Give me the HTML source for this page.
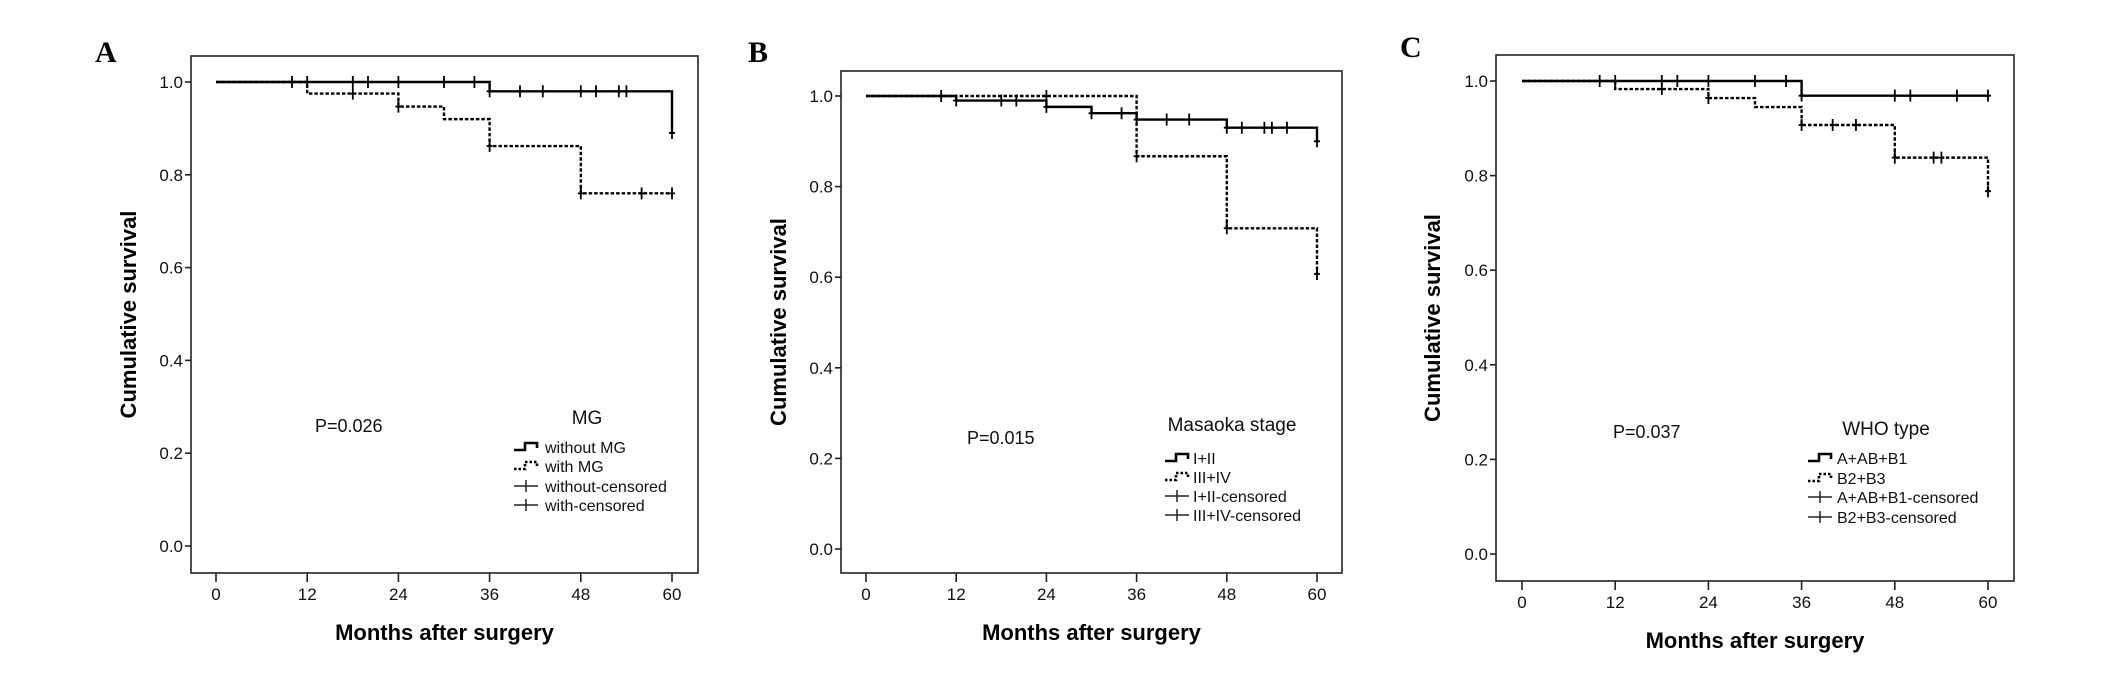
<!DOCTYPE html>
<html><head><meta charset="utf-8"><style>
html,body{margin:0;padding:0;background:#fff;}
svg{display:block;font-family:"Liberation Sans",sans-serif;}
</style></head><body>
<svg id="fig" width="2126" height="673" viewBox="0 0 2126 673"></svg>
<script>
// ---- Panel A: MG ----
const aSolidTimes=[0,36,60];
const aSolidVals=[1.0,0.98,0.89];
const aSolidCens=[10,12,18,20,24,30,34,36,40,43,48,50,53,54,60];
const aDotTimes=[0,12,24,30,36,48];
const aDotVals=[1.0,0.975,0.947,0.92,0.862,0.76];
const aDotCens=[18,24,36,48,56,60];
// ---- Panel B: Masaoka ----
const bSolidTimes=[0,12,24,30,36,48,60];
const bSolidVals=[1.0,0.99,0.976,0.962,0.948,0.93,0.90];
const bSolidCens=[10,12,18,20,24,30,34,36,40,43,48,50,53,54,56,60];
const bDotTimes=[0,36,48,60];
const bDotVals=[1.0,0.867,0.708,0.607];
const bDotCens=[24,36,48,60];
// ---- Panel C: WHO ----
const cSolidTimes=[0,36];
const cSolidVals=[1.0,0.969];
const cSolidCens=[10,12,18,20,24,30,34,36,48,50,56,60];
const cDotTimes=[0,12,24,30,36,48,60];
const cDotVals=[1.0,0.983,0.964,0.945,0.907,0.838,0.767];
const cDotCens=[18,24,36,40,43,48,53,54,60];
// ---- axis tick labels ----
const xTicks=[0,12,24,36,48,60];
const yTicks=[0,0.2,0.4,0.6,0.8,1.0];
const yTickLabels=["0.0","0.2","0.4","0.6","0.8","1.0"];

const NS="http://www.w3.org/2000/svg";
const svg=document.getElementById('fig');
function mk(tag,attrs,parent){const e=document.createElementNS(NS,tag);for(const k in attrs)e.setAttribute(k,attrs[k]);(parent||svg).appendChild(e);return e;}

function panel(cfg){
  const g=mk('g',{});
  
  
  const X=t=>cfg.x0+(cfg.x60-cfg.x0)*t/60;
  const Y=v=>cfg.y0+(cfg.y1-cfg.y0)*v;
  const lbl=mk('text',{x:cfg.lx,y:cfg.ly,'font-family':'"Liberation Serif",serif','font-weight':'bold','font-size':30,fill:'#000'},g);
  lbl.textContent=cfg.id.toUpperCase();
  
  
  const fr=mk('rect',{x:cfg.fl,y:cfg.ft,width:cfg.fr-cfg.fl,height:cfg.fb-cfg.ft,fill:'none',stroke:'#222','stroke-width':1.6},g);
  
  
  yTicks.forEach((v,i)=>{
    const tk=mk('line',{x1:cfg.fl-6,x2:cfg.fl,y1:Y(v),y2:Y(v),stroke:'#222','stroke-width':1.6},g);
    
    
    const t=mk('text',{x:cfg.fl-8,y:Y(v)+6,'text-anchor':'end','font-size':17,fill:'#111'},g);
    t.textContent=yTickLabels[i];
    
    
  });
  xTicks.forEach(m=>{
    const tk=mk('line',{x1:X(m),x2:X(m),y1:cfg.fb,y2:cfg.fb+9,stroke:'#222','stroke-width':1.6},g);
    
    
    const t=mk('text',{x:X(m),y:cfg.fb+27,'text-anchor':'middle','font-size':17,fill:'#111'},g);
    t.textContent=String(m);
    
    
  });
  const xt=mk('text',{x:(cfg.fl+cfg.fr)/2,y:cfg.fb+67,'text-anchor':'middle','font-size':22,'font-weight':'bold',fill:'#000'},g);
  xt.textContent='Months after surgery';
  
  
  const cy=(cfg.ft+cfg.fb)/2;
  const yt=mk('text',{x:cfg.ytx,y:cy,'text-anchor':'middle','font-size':22,'font-weight':'bold',fill:'#000',transform:`rotate(-90 ${cfg.ytx} ${cy})`},g);
  yt.textContent='Cumulative survival';
  
  
  // curves
  function curve(times,vals,cens,dashed,name){
    let d=`M${X(0)},${Y(vals[0])}`;
    for(let i=1;i<times.length;i++){d+=` H${X(times[i])} V${Y(vals[i])}`;}
    const last=Math.max(60,...cens);
    d+=` H${X(Math.min(last,60))}`;
    const p=mk('path',{d:d,fill:'none',stroke:'#000','stroke-width':2.4,'stroke-dasharray':dashed?'3.5,2':'none'},g);
    
    
    cens.forEach(t=>{
      let v=vals[0];
      for(let i=0;i<times.length;i++){if(times[i]<=t)v=vals[i];}
      const c=mk('path',{d:`M${X(t)},${Y(v)-6} V${Y(v)+6} M${X(t)-3},${Y(v)} H${X(t)+3}`,stroke:'#000','stroke-width':1.8,fill:'none'},g);
      
      
    });
  }
  curve(cfg.st,cfg.sv,cfg.sc,false,'solid');
  curve(cfg.dt,cfg.dv,cfg.dc,true,'dotted');
  // p value
  const pv=mk('text',{x:cfg.px,y:cfg.py+7,'font-size':18,fill:'#111'},g);
  pv.textContent=cfg.ptext;
  
  
  // legend
  const lt=mk('text',{x:cfg.legTitleX,y:cfg.legTitleY+7,'text-anchor':'middle','font-size':19,fill:'#111'},g);
  lt.textContent=cfg.legTitle;
  
  
  cfg.legItems.forEach((txt,i)=>{
    const y=cfg.legRows[i];
    const sx=cfg.legSx;
    let s;
    if(i===0) s=mk('path',{d:`M${sx},${y+3} H${sx+11} V${y-4} H${sx+23} V${y+1}`,stroke:'#000','stroke-width':2.6,fill:'none'},g);
    else if(i===1) s=mk('path',{d:`M${sx},${y+3} H${sx+11} V${y-4} H${sx+23} V${y+1}`,stroke:'#000','stroke-width':2.6,fill:'none','stroke-dasharray':'2.5,2'},g);
    else s=mk('path',{d:`M${sx},${y} H${sx+24} M${sx+12},${y-6} V${y+6}`,stroke:'#222','stroke-width':1.5,fill:'none'},g);
    
    
    const t=mk('text',{x:cfg.legTx,y:y+6,'font-size':16,fill:'#111'},g);
    t.textContent=txt;
    
    
  });
}
panel({id:'a',lx:95,ly:62,fl:191,ft:56,fr:698,fb:573,x0:216,x60:672,y1:82,y0:546,ytx:136,
  st:aSolidTimes,sv:aSolidVals,sc:aSolidCens,dt:aDotTimes,dv:aDotVals,dc:aDotCens,
  px:315,py:425,ptext:'P=0.026',legTitle:'MG',legTitleX:587,legTitleY:417,legSx:514,legTx:545,
  legRows:[447,466,486,505],legItems:['without MG','with MG','without-censored','with-censored']});
panel({id:'b',lx:748,ly:62,fl:841,ft:71,fr:1342,fb:573,x0:866,x60:1317,y1:96,y0:549,ytx:786,
  st:bSolidTimes,sv:bSolidVals,sc:bSolidCens,dt:bDotTimes,dv:bDotVals,dc:bDotCens,
  px:967,py:437,ptext:'P=0.015',legTitle:'Masaoka stage',legTitleX:1232,legTitleY:424,legSx:1165,legTx:1193,
  legRows:[458,477,496,515],legItems:['I+II','III+IV','I+II-censored','III+IV-censored']});
panel({id:'c',lx:1400,ly:57,fl:1496,ft:55,fr:2014,fb:581,x0:1522,x60:1988,y1:81,y0:554,ytx:1440,
  st:cSolidTimes,sv:cSolidVals,sc:cSolidCens,dt:cDotTimes,dv:cDotVals,dc:cDotCens,
  px:1613,py:431,ptext:'P=0.037',legTitle:'WHO type',legTitleX:1886,legTitleY:428,legSx:1808,legTx:1837,
  legRows:[458,478,497,517],legItems:['A+AB+B1','B2+B3','A+AB+B1-censored','B2+B3-censored']});
</script>
</body></html>
